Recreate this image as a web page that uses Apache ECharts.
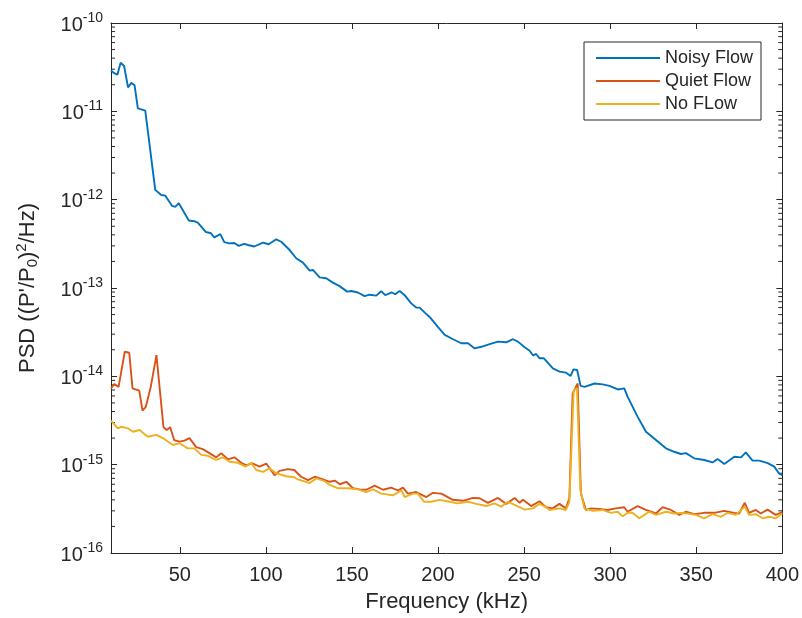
<!DOCTYPE html>
<html>
<head>
<meta charset="utf-8">
<script src="https://cdn.jsdelivr.net/npm/echarts@6/dist/echarts.min.js"></script>
<style>
  html, body { margin: 0; padding: 0; background: #fff; }
  #chart { width: 802px; height: 618px; }
</style>
</head>
<body>
<div id="chart"></div>
<script>
// Frequency (kHz) and PSD values
var noisyFreq = [10, 11.9, 13.7, 15.6, 17.6, 19.9, 21.8, 23.7, 25.6, 29.9, 35.7, 39.2, 41.6, 45.5, 47.3, 49.4, 55.2, 58.4, 60.4, 65.2, 68.1, 70, 73.5, 75.8, 78.7, 81.6, 84.2, 87.4, 89.6, 93.2, 98.3, 101.6, 106, 108.9, 113.8, 117.6, 121.5, 125.4, 127.3, 131.2, 135, 138.9, 142.8, 147.2, 149.6, 153.4, 157.3, 160.2, 164.1, 167, 169.3, 173.2, 175.1, 177.7, 180.6, 184.4, 187.3, 189.3, 192.6, 195.1, 200, 203.9, 208.7, 213.5, 217.4, 221.3, 225.1, 230, 234.8, 239.6, 243.5, 246.4, 250.3, 253.2, 255.1, 257, 259, 261.5, 266.7, 270.6, 274.4, 277, 278.7, 280.8, 282.8, 285.1, 290.9, 295.7, 299.6, 304.4, 308.2, 310.1, 315.9, 320.8, 326.6, 332.4, 337.2, 341.1, 344, 348.8, 354.6, 359.5, 362.4, 366.3, 372.1, 376, 378.8, 382.7, 386.6, 391.5, 395.3, 398.2, 400];
var noisyPsd = [2.9e-11, 2.7e-11, 2.6e-11, 3.55e-11, 3.26e-11, 1.87e-11, 2.1e-11, 1.97e-11, 1.08e-11, 1.02e-11, 1.29e-12, 1.13e-12, 1.11e-12, 8.5e-13, 8.3e-13, 9.1e-13, 5.8e-13, 5.7e-13, 5.5e-13, 4.3e-13, 4.17e-13, 3.75e-13, 4.07e-13, 3.3e-13, 3.2e-13, 3.23e-13, 3.0e-13, 3.16e-13, 3.07e-13, 2.95e-13, 3.26e-13, 3.13e-13, 3.56e-13, 3.34e-13, 2.69e-13, 2.17e-13, 1.94e-13, 1.57e-13, 1.6e-13, 1.32e-13, 1.29e-13, 1.15e-13, 1.05e-13, 9.1e-14, 9.25e-14, 8.9e-14, 8.1e-14, 8.4e-14, 8.2e-14, 9.2e-14, 8.3e-14, 8.9e-14, 8.5e-14, 9.25e-14, 8.3e-14, 6.7e-14, 6.0e-14, 6.0e-14, 5.2e-14, 4.7e-14, 3.6e-14, 2.95e-14, 2.63e-14, 2.37e-14, 2.37e-14, 2.07e-14, 2.16e-14, 2.32e-14, 2.47e-14, 2.43e-14, 2.63e-14, 2.47e-14, 2.13e-14, 1.95e-14, 1.73e-14, 1.79e-14, 1.6e-14, 1.6e-14, 1.23e-14, 1.13e-14, 1.1e-14, 1.01e-14, 1.2e-14, 1.18e-14, 7.8e-15, 7.6e-15, 8.3e-15, 8.1e-15, 7.8e-15, 7.1e-15, 7.3e-15, 5.9e-15, 3.5e-15, 2.36e-15, 1.9e-15, 1.53e-15, 1.4e-15, 1.32e-15, 1.35e-15, 1.18e-15, 1.13e-15, 1.06e-15, 1.16e-15, 1.02e-15, 1.23e-15, 1.21e-15, 1.38e-15, 1.11e-15, 1.11e-15, 1.04e-15, 9.5e-16, 7.9e-16, 7.6e-16];

var quietFreq = [10, 11.9, 14.4, 18, 20.6, 22.5, 26.4, 28.3, 30.2, 33.1, 36.4, 40.5, 42.4, 44.4, 46.7, 49.8, 52.7, 55.6, 59.5, 63.3, 67.2, 71.1, 74, 77.9, 81.7, 85.6, 88.5, 92.4, 96.3, 100.2, 105, 107.9, 112.7, 116.5, 120.4, 124.5, 128.3, 133.2, 137.1, 140, 142.9, 146.7, 150.6, 154.4, 158.3, 163.2, 168, 172.8, 176.7, 179.6, 182.5, 187.3, 193.2, 197, 201.9, 208.6, 214.5, 220.3, 224.1, 229, 234.8, 239.6, 244.5, 247.4, 249.3, 254.1, 258.9, 262.7, 266.6, 270.5, 274.3, 276.3, 278.2, 281.1, 283, 285.9, 288.8, 293.7, 298.5, 303.3, 308.2, 310.1, 315.9, 320.8, 326.6, 330.4, 335.3, 340.1, 344, 348.8, 354.6, 360.4, 366.2, 372, 374.9, 378.2, 380.7, 384.6, 387.5, 391.4, 396.2, 400];
var quietPsd = [7.3e-15, 8.2e-15, 7.6e-15, 1.9e-14, 1.85e-14, 7.3e-15, 6.9e-15, 4.1e-15, 4.5e-15, 7.6e-15, 1.74e-14, 2.65e-15, 2.47e-15, 2.65e-15, 1.9e-15, 1.82e-15, 1.87e-15, 2.0e-15, 1.58e-15, 1.5e-15, 1.35e-15, 1.21e-15, 1.35e-15, 1.15e-15, 1.21e-15, 1.05e-15, 9.9e-16, 1.03e-15, 9.5e-16, 1.03e-15, 7.6e-16, 8.5e-16, 8.9e-16, 8.7e-16, 7.3e-16, 6.7e-16, 7.3e-16, 6.8e-16, 6.4e-16, 6.6e-16, 6.0e-16, 6.4e-16, 5.4e-16, 5.25e-16, 5.2e-16, 5.8e-16, 5.2e-16, 5.5e-16, 5.1e-16, 5.5e-16, 4.7e-16, 4.9e-16, 4.3e-16, 4.8e-16, 4.7e-16, 4.0e-16, 3.9e-16, 4.2e-16, 4.17e-16, 3.7e-16, 4.2e-16, 3.6e-16, 4.2e-16, 3.7e-16, 4.0e-16, 3.4e-16, 3.85e-16, 3.3e-16, 3.2e-16, 3.6e-16, 3.2e-16, 4.2e-16, 6.4e-15, 8.3e-15, 4.7e-16, 3.07e-16, 3.2e-16, 3.15e-16, 3.07e-16, 3.2e-16, 3.3e-16, 2.93e-16, 3.4e-16, 3.07e-16, 2.8e-16, 3.3e-16, 3.07e-16, 2.7e-16, 2.93e-16, 2.75e-16, 2.85e-16, 2.85e-16, 3.0e-16, 2.85e-16, 2.8e-16, 3.7e-16, 2.85e-16, 3.07e-16, 2.8e-16, 3.1e-16, 2.7e-16, 2.9e-16];

var noFlowFreq = [10, 14, 16, 19.8, 22.8, 26.6, 31.4, 36.3, 40.1, 45.9, 49.8, 54.6, 58.5, 62.4, 66.3, 71.1, 75, 78.9, 83.7, 88.2, 91.4, 94.4, 98.3, 102.1, 106, 111.8, 116.5, 118.6, 125.4, 129.3, 134.1, 137.1, 141.9, 147.7, 153.5, 158.3, 162.2, 167, 173.8, 178.7, 180.6, 185.4, 188.3, 191.8, 196, 200.9, 206.7, 211.5, 217.4, 222.2, 228, 232.8, 236.7, 240.6, 244.5, 250.3, 255.1, 258.9, 262.8, 264.7, 270.5, 274.3, 276.3, 278.8, 280.7, 282.7, 285, 289.8, 295.6, 300.4, 304.3, 307.2, 310.1, 313, 316.9, 319.8, 322.7, 326.6, 332.4, 337.2, 341.1, 345, 349.8, 354.6, 359.5, 364.3, 368.2, 373, 378.2, 380.7, 384.6, 388.5, 392.3, 396.2, 400];
var noFlowPsd = [3.16e-15, 2.58e-15, 2.69e-15, 2.58e-15, 2.36e-15, 2.47e-15, 2.07e-15, 2.17e-15, 2.0e-15, 1.67e-15, 1.75e-15, 1.53e-15, 1.53e-15, 1.29e-15, 1.26e-15, 1.13e-15, 1.21e-15, 1.08e-15, 1.05e-15, 9.5e-16, 1.05e-15, 8.7e-16, 8.3e-16, 9.1e-16, 8.0e-16, 7.4e-16, 7.2e-16, 6.8e-16, 6.2e-16, 7.0e-16, 6.5e-16, 5.9e-16, 5.4e-16, 5.4e-16, 5.25e-16, 4.9e-16, 5.25e-16, 4.7e-16, 4.5e-16, 5.1e-16, 4.3e-16, 4.7e-16, 4.7e-16, 3.8e-16, 3.8e-16, 4.0e-16, 3.8e-16, 3.65e-16, 3.8e-16, 3.6e-16, 3.4e-16, 3.65e-16, 3.35e-16, 3.8e-16, 3.5e-16, 3.1e-16, 3.2e-16, 3.6e-16, 3.3e-16, 3.07e-16, 3.2e-16, 3.07e-16, 3.8e-16, 7.0e-15, 7.3e-15, 5.2e-16, 3.2e-16, 3.0e-16, 3.07e-16, 2.85e-16, 2.93e-16, 2.6e-16, 2.85e-16, 2.85e-16, 2.47e-16, 2.7e-16, 2.93e-16, 2.7e-16, 2.93e-16, 2.8e-16, 2.85e-16, 2.8e-16, 2.7e-16, 2.47e-16, 2.75e-16, 2.57e-16, 2.85e-16, 2.7e-16, 3.35e-16, 2.7e-16, 2.75e-16, 2.47e-16, 2.57e-16, 2.47e-16, 2.8e-16];

var xTicks = [50, 100, 150, 200, 250, 300, 350, 400];
var seriesNames = ['Noisy Flow', 'Quiet Flow', 'No FLow'];
var colors = ['#0072BD', '#D95319', '#EDB120'];

var X_MIN = 10, X_MAX = 400, Y_MIN = 1e-16, Y_MAX = 1e-10;
var FONT = 'Liberation Sans, Arial, sans-serif';
var INK = '#262626';

function pairs(xs, ys) {
    return xs.map(function (x, i) { return [x, ys[i]]; });
}

// minor ticks of the log axis (2..9 x 10^n)
var minorTicks = [];
for (var e = -16; e < -10; e++) {
    for (var k = 2; k <= 9; k++) minorTicks.push([X_MIN, k * Math.pow(10, e)]);
}

var chart = echarts.init(document.getElementById('chart'));

function xAxisDef(pos) {
    return {
        type: 'value', position: pos, min: X_MIN, max: X_MAX,
        axisLine: { show: true, lineStyle: { color: INK, width: 1 } },
        axisTick: { show: true, inside: true, length: 6, customValues: xTicks, lineStyle: { color: INK } },
        axisLabel: pos === 'bottom' ? {
            show: true, customValues: xTicks, margin: 12,
            color: INK, fontSize: 20, fontFamily: FONT
        } : { show: false },
        splitLine: { show: false },
        name: pos === 'bottom' ? 'Frequency (kHz)' : '',
        nameLocation: 'middle', nameGap: 38,
        nameTextStyle: { color: INK, fontSize: 22, fontFamily: FONT }
    };
}

function yAxisDef(pos) {
    return {
        type: 'log', logBase: 10, position: pos, min: Y_MIN, max: Y_MAX,
        axisLine: { show: true, lineStyle: { color: INK, width: 1 } },
        axisTick: { show: true, inside: true, length: 6, lineStyle: { color: INK } },
        axisLabel: pos === 'left' ? {
            show: true, margin: 8,
            formatter: function (v) {
                return '{b|10}{s|' + Math.round(Math.log10(v)) + '}';
            },
            rich: {
                b: { fontSize: 20, fontFamily: FONT, color: INK, padding: [4, 0, 0, 0] },
                s: { fontSize: 14, fontFamily: FONT, color: INK, padding: [0, 0, 10, 0] }
            }
        } : { show: false },
        splitLine: { show: false },
        name: pos === 'left' ? "PSD ((P'/P{sub|0}){sup|2}/Hz)" : '',
        nameLocation: 'middle', nameGap: 70,
        nameTextStyle: {
            color: INK, fontSize: 22, fontFamily: FONT,
            rich: {
                sub: { fontSize: 15, fontFamily: FONT, color: INK, padding: [10, 0, 0, 0] },
                sup: { fontSize: 15, fontFamily: FONT, color: INK, padding: [0, 0, 12, 0] }
            }
        }
    };
}

var lines = [pairs(noisyFreq, noisyPsd), pairs(quietFreq, quietPsd), pairs(noFlowFreq, noFlowPsd)];

var series = lines.map(function (d, i) {
    return {
        name: seriesNames[i], type: 'line', data: d,
        symbol: 'none', smooth: false,
        lineStyle: { color: colors[i], width: 1.9 },
        itemStyle: { color: colors[i] },
        animation: false
    };
});

series.push({
    type: 'custom', silent: true, animation: false, clip: false,
    data: minorTicks,
    renderItem: function (params, api) {
        var v = api.value(1);
        var l = api.coord([X_MIN, v]);
        var r = api.coord([X_MAX, v]);
        var st = { stroke: INK, lineWidth: 1 };
        return {
            type: 'group',
            children: [
                { type: 'line', shape: { x1: l[0], y1: l[1], x2: l[0] + 4, y2: l[1] }, style: st },
                { type: 'line', shape: { x1: r[0] - 4, y1: r[1], x2: r[0], y2: r[1] }, style: st }
            ]
        };
    }
});

chart.setOption({
    animation: false,
    backgroundColor: '#fff',
    grid: { left: 111, right: 19, top: 23, bottom: 65 },
    legend: {
        data: seriesNames,
        orient: 'vertical', left: 584, top: 42,
        padding: [7, 8, 7, 12], itemGap: 5,
        itemWidth: 64, itemHeight: 2, icon: 'rect',
        backgroundColor: '#fff', borderColor: INK, borderWidth: 1, borderRadius: 0,
        textStyle: { color: INK, fontSize: 18, fontFamily: FONT }
    },
    xAxis: [xAxisDef('bottom'), xAxisDef('top')],
    yAxis: [yAxisDef('left'), yAxisDef('right')],
    series: series
});
</script>
</body>
</html>
